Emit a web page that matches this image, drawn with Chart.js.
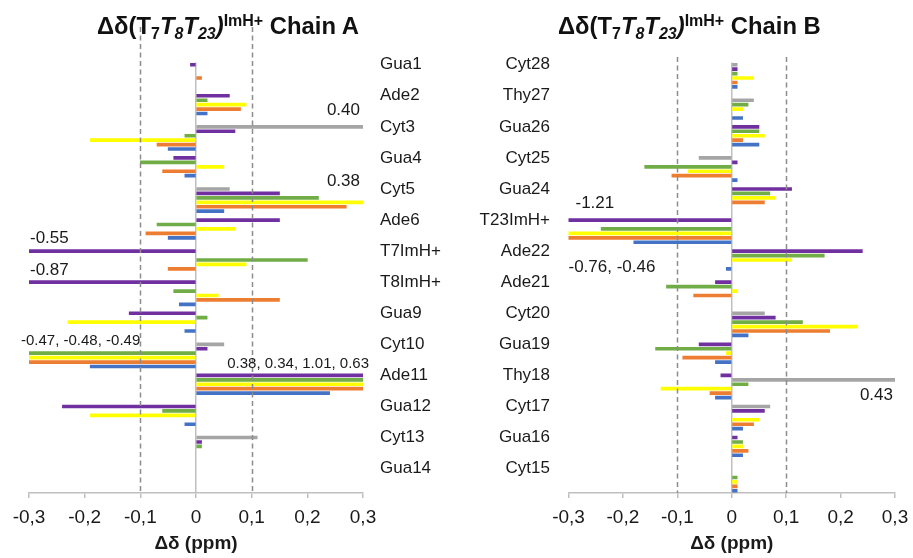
<!DOCTYPE html>
<html>
<head>
<meta charset="utf-8">
<script src="https://cdn.jsdelivr.net/npm/chart.js@4.4.1/dist/chart.umd.min.js"></script>
<style>
  body { margin: 0; background: #fff; width: 913px; height: 558px; position: relative; overflow: hidden;
         font-family: "Liberation Sans", Arial, sans-serif; }
  canvas { position: absolute; top: 0; }
  #chartA { left: 0; }
  #chartB { left: 460px; }
  .title { position: absolute; top: 14px; font-weight: bold; font-size: 23.8px; line-height: 23px;
           white-space: nowrap; color: #111; }
  .title .lo { font-size: 16px; position: relative; top: 5px; }
  .title .hi { font-size: 16px; position: relative; top: -8px; }
</style>
</head>
<body>
<canvas id="chartA" width="460" height="558"></canvas>
<canvas id="chartB" width="453" height="558"></canvas>
<div class="title" style="left:97px">Δδ(T<span class="lo">7</span><i>T<span class="lo">8</span>T<span class="lo">23</span>)</i><span class="hi">ImH+</span> Chain A</div>
<div class="title" style="left:558px">Δδ(T<span class="lo">7</span><i>T<span class="lo">8</span>T<span class="lo">23</span>)</i><span class="hi">ImH+</span> Chain B</div>
<script>
// residues, top to bottom
const residuesA = ['Gua1', 'Ade2', 'Cyt3', 'Gua4', 'Cyt5', 'Ade6', 'T7ImH+', 'T8ImH+', 'Gua9', 'Cyt10', 'Ade11', 'Gua12', 'Cyt13', 'Gua14'];
const residuesB = ['Cyt28', 'Thy27', 'Gua26', 'Cyt25', 'Gua24', 'T23ImH+', 'Ade22', 'Ade21', 'Cyt20', 'Gua19', 'Thy18', 'Cyt17', 'Gua16', 'Cyt15'];

// chain A shifts (ppm), one value per residue
const grayA   = [null, null, 0.40, null, 0.06, null, null, null, null, 0.05, null, null, 0.11, null];
const purpleA = [-0.01, 0.06, 0.07, -0.04, 0.15, 0.15, -0.55, -0.87, -0.12, 0.02, 0.38, -0.24, 0.01, null];
const greenA  = [null, 0.02, -0.02, -0.10, 0.22, -0.07, 0.20, -0.04, 0.02, -0.47, 0.34, -0.06, 0.01, null];
const yellowA = [null, 0.09, -0.19, 0.05, 0.38, 0.07, 0.09, 0.04, -0.23, -0.48, 1.01, -0.19, null, null];
const orangeA = [0.01, 0.08, -0.07, -0.06, 0.27, -0.09, -0.05, 0.15, null, -0.49, 0.63, null, null, null];
const blueA   = [null, 0.02, -0.05, -0.02, 0.05, -0.05, null, -0.03, -0.02, -0.19, 0.24, -0.02, null, null];

// chain B shifts (ppm)
const grayB   = [0.01, 0.04, null, -0.06, null, null, null, null, 0.06, null, 0.43, 0.07, null, null];
const purpleB = [0.01, null, 0.05, 0.01, 0.11, -1.21, 0.24, -0.03, 0.08, -0.06, -0.02, 0.06, 0.01, null];
const greenB  = [0.01, 0.03, 0.05, -0.16, 0.07, -0.24, 0.17, -0.12, 0.13, -0.14, 0.03, null, 0.02, 0.01];
const yellowB = [0.04, 0.02, 0.06, -0.08, 0.08, -0.76, 0.11, 0.01, 0.23, -0.01, -0.13, 0.05, 0.02, 0.01];
const orangeB = [0.01, null, 0.02, -0.11, 0.06, -0.46, null, -0.07, 0.18, -0.09, -0.04, 0.04, 0.03, 0.01];
const blueB   = [0.01, 0.02, 0.05, 0.01, null, -0.18, -0.01, null, 0.03, -0.03, -0.03, 0.02, 0.02, 0.01];

const xTicks = [-0.3, -0.2, -0.1, 0, 0.1, 0.2, 0.3];
const refLines = [-0.1, 0.1];

// off-scale values written next to the clipped bars
const notesA = [
  { text: '0.40', residue: 'Cyt3' },
  { text: '0.38', residue: 'Cyt5' },
  { text: '-0.55', residue: 'T7ImH+' },
  { text: '-0.87', residue: 'T8ImH+' },
  { text: '-0.47, -0.48, -0.49', residue: 'Cyt10' },
  { text: '0.38, 0.34, 1.01, 0.63', residue: 'Ade11' },
];
const notesB = [
  { text: '-1.21', residue: 'T23ImH+' },
  { text: '-0.76, -0.46', residue: 'Ade21' },
  { text: '0.43', residue: 'Thy18' },
];

const colors = { gray: '#a5a5a5', purple: '#7030a0', green: '#70ad47', yellow: '#ffff00', orange: '#ed7d31', blue: '#4472c4' };
const seriesNames = ['gray', 'purple', 'green', 'yellow', 'orange', 'blue'];
const ROWS = 7;

// which proton row each colour sits on, per residue type
function rowOrder(name) {
  if (name.startsWith('Cyt')) return ['gray', 'purple', 'green', 'yellow', 'orange', 'blue'];
  if (name.startsWith('T')) return ['purple', 'gray', 'green', 'yellow', 'orange', 'blue'];
  return ['purple', 'green', 'yellow', 'orange', 'blue'];
}

function buildRows(residues, series) {
  const labels = [];
  const data = {};
  seriesNames.forEach(s => data[s] = []);
  residues.forEach((res, i) => {
    const order = rowOrder(res);
    const n = i === residues.length - 1 ? ROWS - 1 : ROWS;
    for (let r = 0; r < n; r++) {
      labels.push(r === 0 ? res : '');
      seriesNames.forEach(s => data[s].push(order[r] === s ? series[s][i] : null));
    }
  });
  return { labels, data };
}

// placement of the note texts (style, not data)
const notePlace = {
  '0.40': { side: 'right', dx: -3, dy: -17, size: 17 },
  '0.38': { side: 'right', dx: -3, dy: -8, size: 17 },
  '-0.55': { side: 'left', dx: 1, dy: -13, size: 17 },
  '-0.87': { side: 'left', dx: 1, dy: -11.5, size: 17 },
  '-0.47, -0.48, -0.49': { side: 'left', dx: -8, dy: -3, size: 15 },
  '0.38, 0.34, 1.01, 0.63': { side: 'right', dx: 6, dy: -12, size: 15 },
  '-1.21': { side: 'left', dx: 7, dy: -17, size: 17 },
  '-0.76, -0.46': { side: 'left', dx: 0, dy: -15, size: 17 },
  '0.43': { side: 'right', dx: -2, dy: 20, size: 17 },
};

const decor = {
  id: 'decor',
  afterDatasetsDraw(chart, args, opts) {
    const { ctx, chartArea } = chart;
    const xs = chart.scales.x, ys = chart.scales.y;
    ctx.save();
    ctx.strokeStyle = '#8c8c8c';
    ctx.lineWidth = 1.5;
    ctx.setLineDash([5, 3.5]);
    refLines.forEach(v => {
      const px = Math.round(xs.getPixelForValue(v)) + 0.5;
      ctx.beginPath();
      ctx.moveTo(px, opts.lineTop);
      ctx.lineTo(px, chartArea.bottom);
      ctx.stroke();
    });
    ctx.setLineDash([]);
    ctx.fillStyle = '#1a1a1a';
    ctx.textBaseline = 'middle';
    opts.notes.forEach(n => {
      const p = notePlace[n.text];
      const row = chart.data.labels.indexOf(n.residue);
      const y = ys.getPixelForValue(row) + p.dy;
      ctx.font = p.size + 'px "Liberation Sans", Arial, sans-serif';
      ctx.textAlign = p.side;
      const x = (p.side === 'left' ? chartArea.left : chartArea.right) + p.dx;
      ctx.fillText(n.text, x, y);
    });
    ctx.restore();
  }
};

function makeChart(id, residues, series, notes, side) {
  const rows = buildRows(residues, series);
  const font = '"Liberation Sans", Arial, sans-serif';
  return new Chart(document.getElementById(id), {
    type: 'bar',
    data: {
      labels: rows.labels,
      datasets: seriesNames.map(s => ({
        label: s,
        data: rows.data[s],
        backgroundColor: colors[s],
        barThickness: 3,
        grouped: false,
        clip: 0,
      })),
    },
    plugins: [decor],
    options: {
      indexAxis: 'y',
      responsive: false,
      animation: false,
      layout: { padding: side === 'right' ? { left: 29, right: 0, top: 62.5, bottom: 0 } : { left: 0, right: 18, top: 62.5, bottom: 0 } },
      plugins: {
        legend: { display: false },
        tooltip: { enabled: false },
        decor: { lineTop: side === 'right' ? 27 : 57, notes: notes },
      },
      scales: {
        x: {
          min: -0.3,
          max: 0.3,
          afterBuildTicks: s => { s.ticks = xTicks.map(v => ({ value: v })); },
          afterFit: s => { s.height = 65; s.paddingLeft = 0; s.paddingRight = 0; },
          grid: {
            color: c => (c.tick && Math.abs(c.tick.value) < 1e-9) ? '#bfbfbf' : 'rgba(0,0,0,0)',
            lineWidth: 1.5,
            tickColor: '#bfbfbf',
            tickLength: 5,
            tickWidth: 1.5,
          },
          border: { display: true, color: '#bfbfbf', width: 1.5 },
          ticks: {
            padding: 8.5,
            color: '#1a1a1a',
            font: { family: font, size: 19 },
            maxRotation: 0,
            callback: v => Math.abs(v) < 1e-9 ? '0' : v.toFixed(1).replace('.', ','),
          },
          title: {
            display: true,
            text: 'Δδ (ppm)',
            color: '#1a1a1a',
            font: { family: font, size: 19, weight: 'bold' },
            padding: { top: 0, bottom: 3 },
          },
        },
        y: {
          position: side,
          afterFit: s => { s.width = side === 'right' ? 97 : 108.5; },
          grid: { display: false, drawTicks: false },
          border: { display: false },
          ticks: {
            autoSkip: false,
            padding: side === 'right' ? 17 : 18.5,
            color: '#1a1a1a',
            font: { family: font, size: 17 },
          },
        },
      },
    },
  });
}

makeChart('chartA', residuesA,
  { gray: grayA, purple: purpleA, green: greenA, yellow: yellowA, orange: orangeA, blue: blueA }, notesA, 'right');
makeChart('chartB', residuesB,
  { gray: grayB, purple: purpleB, green: greenB, yellow: yellowB, orange: orangeB, blue: blueB }, notesB, 'left');
</script>
</body>
</html>
